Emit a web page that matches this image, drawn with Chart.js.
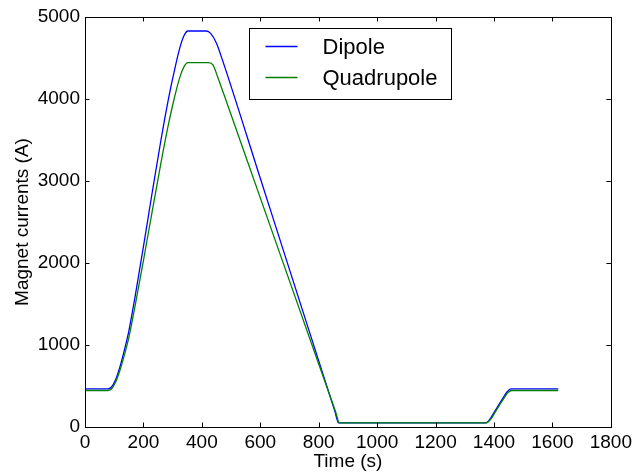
<!DOCTYPE html>
<html>
<head>
<meta charset="utf-8">
<script src="https://cdn.jsdelivr.net/npm/chart.js@4.4.1/dist/chart.umd.min.js"></script>
<style>
  html, body { margin: 0; padding: 0; background: #fff; }
  canvas { display: block; }
</style>
</head>
<body>
<canvas id="chart" width="636" height="473"></canvas>
<script>
// values
const dipoleTime    = [0, 78, 90, 105, 120, 135, 150, 170, 200, 230, 260, 285, 305, 325, 340, 352, 415, 430, 450, 470, 600, 800, 855, 868, 880, 1372, 1385, 1400, 1430, 1445, 1458, 1620];
const dipoleCurrent = [465, 465, 485, 580, 740, 940, 1170, 1560, 2200, 2860, 3500, 3990, 4330, 4630, 4780, 4829, 4829, 4800, 4680, 4480, 3033, 807, 195, 50, 50, 50, 90, 175, 350, 430, 465, 465];

const quadTime    = [0, 78, 90, 105, 120, 135, 150, 170, 200, 230, 260, 285, 305, 325, 340, 352, 423, 438, 455, 475, 600, 800, 858, 871, 880, 1374, 1388, 1403, 1433, 1448, 1461, 1620];
const quadCurrent = [445, 445, 463, 550, 695, 880, 1090, 1450, 2030, 2630, 3220, 3680, 4000, 4270, 4400, 4443, 4443, 4415, 4260, 4060, 2794, 768, 182, 50, 50, 50, 90, 175, 345, 420, 445, 445];

const xTicks = { min: 0, max: 1800, step: 200 };
const yTicks = { min: 0, max: 5000, step: 1000 };

const FONT = '"Liberation Sans", Arial, Helvetica, sans-serif';

function toPoints(xs, ys) {
    return xs.map((x, i) => ({ x: x, y: ys[i] }));
}

// matplotlib style frame with inward ticks on all four sides
const frameTicks = {
    id: 'frameTicks',
    afterDatasetsDraw(chart) {
        const { ctx, chartArea: a, scales } = chart;
        const len = 4.5;
        ctx.save();
        ctx.strokeStyle = '#000';
        ctx.lineWidth = 1;
        ctx.beginPath();
        scales.x.ticks.forEach(t => {
            const px = Math.round(scales.x.getPixelForValue(t.value)) + 0.5;
            ctx.moveTo(px, a.bottom); ctx.lineTo(px, a.bottom - len);
            ctx.moveTo(px, a.top); ctx.lineTo(px, a.top + len);
        });
        scales.y.ticks.forEach(t => {
            const py = Math.round(scales.y.getPixelForValue(t.value)) + 0.5;
            ctx.moveTo(a.left, py); ctx.lineTo(a.left + len, py);
            ctx.moveTo(a.right, py); ctx.lineTo(a.right - len, py);
        });
        ctx.stroke();
        ctx.strokeRect(Math.round(a.left) + 0.5, Math.round(a.top) + 0.5,
                       Math.round(a.right - a.left), Math.round(a.bottom - a.top));
        ctx.restore();
    }
};

// legend box inside the plot, upper centre
const boxLegend = {
    id: 'boxLegend',
    afterDraw(chart) {
        const { ctx, chartArea: a } = chart;
        const left = Math.round(a.left + 164) + 0.5;
        const top = Math.round(a.top + 11) + 0.5;
        const w = 202, h = 71;
        ctx.save();
        ctx.fillStyle = '#fff';
        ctx.fillRect(left, top, w, h);
        ctx.strokeStyle = '#000';
        ctx.lineWidth = 1;
        ctx.strokeRect(left, top, w, h);
        ctx.font = '22px ' + FONT;
        ctx.textBaseline = 'middle';
        ctx.fillStyle = '#000';
        const rows = [18, 49];
        chart.data.datasets.forEach((ds, i) => {
            const y = top + rows[i];
            ctx.strokeStyle = ds.borderColor;
            ctx.lineWidth = 1.3;
            ctx.beginPath();
            ctx.moveTo(left + 16, y);
            ctx.lineTo(left + 48, y);
            ctx.stroke();
            ctx.fillText(ds.label, left + 73, y + 1);
        });
        ctx.restore();
    }
};

new Chart(document.getElementById('chart'), {
    type: 'line',
    data: {
        datasets: [{
            label: 'Dipole',
            data: toPoints(dipoleTime, dipoleCurrent),
            borderColor: '#0000ff',
            borderWidth: 1.3,
            pointRadius: 0,
            fill: false,
            cubicInterpolationMode: 'monotone',
            order: 1
        }, {
            label: 'Quadrupole',
            data: toPoints(quadTime, quadCurrent),
            borderColor: '#008000',
            borderWidth: 1.3,
            pointRadius: 0,
            fill: false,
            cubicInterpolationMode: 'monotone',
            order: 0
        }]
    },
    options: {
        responsive: false,
        animation: false,
        layout: { padding: { left: 0, right: 22, top: 17, bottom: 0 } },
        plugins: {
            legend: { display: false },
            tooltip: { enabled: false }
        },
        scales: {
            x: {
                type: 'linear',
                min: xTicks.min,
                max: xTicks.max,
                grid: { display: false, drawTicks: false },
                border: { display: false },
                ticks: {
                    stepSize: xTicks.step,
                    maxRotation: 0,
                    padding: 4,
                    color: '#000',
                    font: { family: FONT, size: 19 },
                    callback: v => String(v)
                },
                title: {
                    display: true,
                    text: 'Time (s)',
                    color: '#000',
                    font: { family: FONT, size: 19 },
                    padding: { top: 0, bottom: 0 }
                },
                afterFit(scale) { scale.height = 46; }
            },
            y: {
                min: yTicks.min,
                max: yTicks.max,
                grid: { display: false, drawTicks: false },
                border: { display: false },
                ticks: {
                    stepSize: yTicks.step,
                    padding: 5,
                    color: '#000',
                    font: { family: FONT, size: 19 },
                    callback: v => String(v)
                },
                title: {
                    display: true,
                    text: 'Magnet currents (A)',
                    color: '#000',
                    font: { family: FONT, size: 19 },
                    padding: { top: 11, bottom: 0 }
                },
                afterFit(scale) { scale.width = 85; }
            }
        }
    },
    plugins: [frameTicks, boxLegend]
});
</script>
</body>
</html>
